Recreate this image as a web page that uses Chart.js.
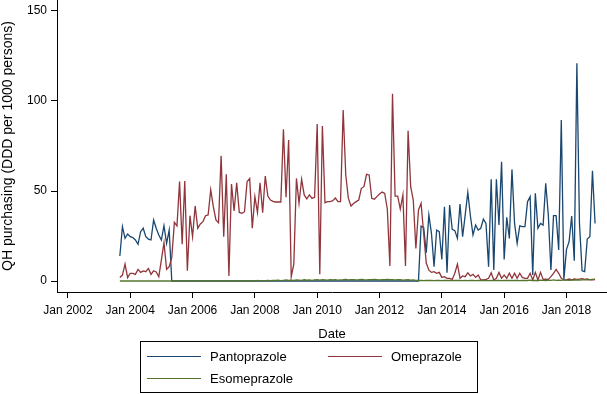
<!DOCTYPE html>
<html><head><meta charset="utf-8">
<script src="https://cdn.jsdelivr.net/npm/chart.js@4"></script>
<style>
html,body{margin:0;padding:0;background:#fff;}
#wrap{position:relative;width:607px;height:394px;overflow:hidden;}
canvas{position:absolute;left:0;top:0;}
#legend{position:absolute;left:140px;top:341px;width:338px;height:52px;border:1px solid #000;box-sizing:border-box;font-family:"Liberation Sans",Arial,sans-serif;font-size:13px;color:#000;}
.item{position:absolute;height:16px;line-height:16px;white-space:nowrap;}
.swatch{position:absolute;top:7px;width:54px;height:0;border-top:1.3px solid;}
.lbl{position:absolute;left:63px;top:0;}
</style></head><body>
<div id="wrap"><canvas id="c" width="607" height="394"></canvas>
<div id="legend"></div></div>
<script>
// ---- data (monthly, Sep 2003 .. Dec 2018) ----
const firstMonth = '2003-09';
const seriesNames = ['Pantoprazole', 'Omeprazole', 'Esomeprazole'];
const seriesColors = ['#1a476f', '#90353b', '#55752f'];

const pantoprazole = [
 13.9,30.2,23.7,26.1,24.6,24.1,22.8,20.4,27.4,29.3,24.6,23.3,22.8,33.9,29.3,25.6,22.8,30.7,20.9,28.3,
 0,0,0,0,0,0,0,0,0,0, 0,0,0,0,0,0,0,0,0,0, 0,0,0,0,0,0,0,0,0,0, 0,0,0,0,0,0,0,0,0,0,
 0,0,0,0,0,0,0,0,0,0, 0,0,0,0,0,0,0,0,0,0, 0,0,0,0,0,0,0,0,0,0, 0,0,0,0,0,0,0,0,0,0,
 0,0,0,0,0,0,0,0,0,0, 0,0,0,0,0,0,
 30.5,29.8,15.7,36.7,26.5,8,28.3,27.4,12,41.3,
 4.6,42.2,28.7,28,23.7,42.8,24.6,36.7,49.3,36.1,
 25.6,31.1,28.3,29.3,34.4,32,8,56.5,6.1,56.5,
 31.1,66.3,12,35.4,23.7,62,32,21,30.6,30.2,
 30.2,44,46.9,3.3,48.7,29.3,32,31.1,54.3,36.7,
 6.1,36.3,36.3,17.2,89.4,0.9,17.6,21.9,36.1,11.3,
 120.9,32,5.7,5.2,23.3,24.6,61.3,32
];
const omeprazole = [
 2.0,3.3,9.4,1.9,4.3,4.3,3.7,6.5,4.8,5.6,5.2,7.0,3.7,5.7,5.0,2.4,11.7,21.3,6.5,8.0,13,
 32.6,30.6,55.2,20.4,55.6,5.7,36.3,24.6,41.7,29.3,
 31.7,33.0,36.3,36.7,50.6,41.3,33.9,32.4,69.6,24.6,
 59.3,2.8,53.9,38.9,54.6,38.1,37.6,38.5,55.2,57.0,
 29.3,46.9,38.0,54.6,38.0,58.3,47.2,45.0,44.3,43.9,
 43.9,43.9,84.3,46.5,78.3,2.4,9.4,57.0,43.1,56.5,
 47.8,45.6,47.8,45.9,46.5,87.2,3.7,86.1,43.5,44.1,
 44.1,44.6,46.1,44.1,44.1,95.0,58.9,46,
 41.7,43.1,44.1,45.0,51.5,52.4,59.3,58.9,45.9,45.4,46.9,
 48.3,49.4,48.7,40,8.3,104,47.2,47.2,40.0,47.8,
 8.3,83.5,52.4,45.0,18.1,39.4,43.1,26.5,10,6,
 4.8,5.2,4.3,4.8,2.0,2.4,1.5,1.5,0.9,4.3,
 9.4,1.5,2.8,2.4,4.6,2.8,3.7,2.0,3.3,0.6,
 0.6,0.9,1.5,4.6,0.6,1.5,4.8,1.5,3.3,1.5,
 4.3,1.5,4.3,1.5,4.3,2.0,1.5,1.5,4.3,0.6,
 4.8,0.6,4.8,0.9,1.1,0.9,2.4,4.3,6.5,4.3,
 1.5,0.6,0.6,1.1,0.6,1.1,0.9,1.1,1.3,0.9,
 1.1,0.6,0.6,0.8
];
const esomeprazole = [
 0,0,0,0,0,0,0,0,0,0, 0,0,0,0,0,0,0,0,0,0, 0,0,0,0,0,0,0,0,0,0, 0,0,0,0,0,0,0,0,0,0, 0,0,0,0,0,0,0,0,0,0,
 0,0.2,0,0.3,0.1,0,0.2,0.3,0.2,0.4,
 0.3,0.5,0.2,0.4,0.6,0.3,0.5,0.4,0.6,0.5,
 0.4,0.7,0.5,0.6,0.4,0.6,0.8,0.5,0.7,0.6,
 0.5,0.7,0.6,0.8,0.5,0.6,0.7,0.9,0.6,0.7,
 0.8,0.6,0.7,0.9,0.7,0.6,0.8,0.7,0.9,0.8,
 0.6,0.8,0.7,0.9,0.8,0.7,0.6,0.8,0.7,0.5,
 0.6,0.7,0.5,0.6,0.4,0.3,0.4,0.2,0.3,0.4,
 0.3,0.2,0.4,0.3,0.2,0.3,0.4,0.3,0.2,0.3,
 0.4,0.3,0.2,0.3,0.2,0.4,0.3,0.2,0.3,0.2,
 0.3,0.4,0.2,0.3,0.2,0.3,0.4,0.2,0.3,0.4,
 0.3,0.2,0.4,0.3,0.2,0.3,0.4,0.3,0.5,0.3,
 0.4,0.3,0.5,0.4,0.3,0.5,0.4,0.6,0.4,0.5,
 0.4,0.6,0.5,0.4,0.6,0.5,0.7,0.5,0.6,0.7,
 0.6,0.8,0.9,1.0
];
const xTickLabels = ['Jan 2002','Jan 2004','Jan 2006','Jan 2008','Jan 2010','Jan 2012','Jan 2014','Jan 2016','Jan 2018'];
const yTickValues = [0, 50, 100, 150];
const yTitle = 'QH purchasing (DDD per 1000 persons)';
const xTitle = 'Date';

// ---- helpers: months since Jan 2002 ----
const baseYear = 2002;
function monthsFromLabel(lbl){ // 'Jan 2004'
  const mo = ['Jan','Feb','Mar','Apr','May','Jun','Jul','Aug','Sep','Oct','Nov','Dec'];
  const [m, y] = lbl.split(' ');
  return (parseInt(y) - baseYear) * 12 + mo.indexOf(m);
}
const [fy, fm] = firstMonth.split('-').map(Number);
const startIdx = (fy - baseYear) * 12 + (fm - 1);
const toPoints = arr => arr.map((v, i) => ({x: startIdx + i, y: v}));
const xTickValues = xTickLabels.map(monthsFromLabel);

Chart.defaults.font.family = '"Liberation Sans", Arial, Helvetica, sans-serif';
Chart.defaults.color = '#000';

const allSeries = [pantoprazole, omeprazole, esomeprazole];
new Chart(document.getElementById('c'), {
  type: 'line',
  data: {
    datasets: allSeries.map((arr, k) => ({
      label: seriesNames[k],
      data: toPoints(arr),
      borderColor: seriesColors[k],
      backgroundColor: seriesColors[k],
      borderWidth: 1.3,
      pointRadius: 0,
      tension: 0,
      fill: false,
      order: 3 - k
    }))
  },
  options: {
    responsive: false,
    animation: false,
    devicePixelRatio: 1,
    layout: {padding: {left: 0, right: 0, top: 0, bottom: 49}},
    plugins: {legend: {display: false}, tooltip: {enabled: false}},
    scales: {
      x: {
        type: 'linear',
        min: -4.2, max: 207.6,
        afterBuildTicks: s => { s.ticks = xTickValues.map(v => ({value: v})); },
        afterFit: s => { s.height = 53; s.paddingLeft = 0; s.paddingRight = 0; },
        ticks: {autoSkip: false, maxRotation: 0, padding: 5, color: '#000', font: {size: 12},
                callback: (v, i) => xTickLabels[i]},
        grid: {drawOnChartArea: false, drawTicks: true, tickLength: 6, color: '#000', lineWidth: 1},
        border: {display: true, color: '#000', width: 1},
        title: {display: true, text: xTitle, color: '#000', font: {size: 13}, padding: {top: 0, bottom: 3}}
      },
      y: {
        min: -6.1, max: 156.1,
        afterBuildTicks: s => { s.ticks = yTickValues.map(v => ({value: v})); },
        afterFit: s => { s.width = 57; s.paddingTop = 0; s.paddingBottom = 0; },
        ticks: {padding: 4, color: '#000', font: {size: 12}, callback: v => String(v)},
        grid: {drawOnChartArea: false, drawTicks: true, tickLength: 6, color: '#000', lineWidth: 1},
        border: {display: true, color: '#000', width: 1},
        title: {display: true, text: yTitle, color: '#000', font: {size: 14}, padding: {top: 0, bottom: 0}}
      }
    }
  }
});

// ---- legend (HTML) ----
const legendPos = [{left: 6, top: 7}, {left: 187, top: 7}, {left: 6, top: 29}];
const leg = document.getElementById('legend');
seriesNames.forEach((name, k) => {
  const it = document.createElement('div');
  it.className = 'item';
  it.style.left = legendPos[k].left + 'px';
  it.style.top = legendPos[k].top + 'px';
  const sw = document.createElement('div');
  sw.className = 'swatch';
  sw.style.borderTopColor = seriesColors[k];
  const tx = document.createElement('span');
  tx.className = 'lbl';
  tx.textContent = name;
  it.appendChild(sw); it.appendChild(tx);
  leg.appendChild(it);
});
</script>
</body></html>
